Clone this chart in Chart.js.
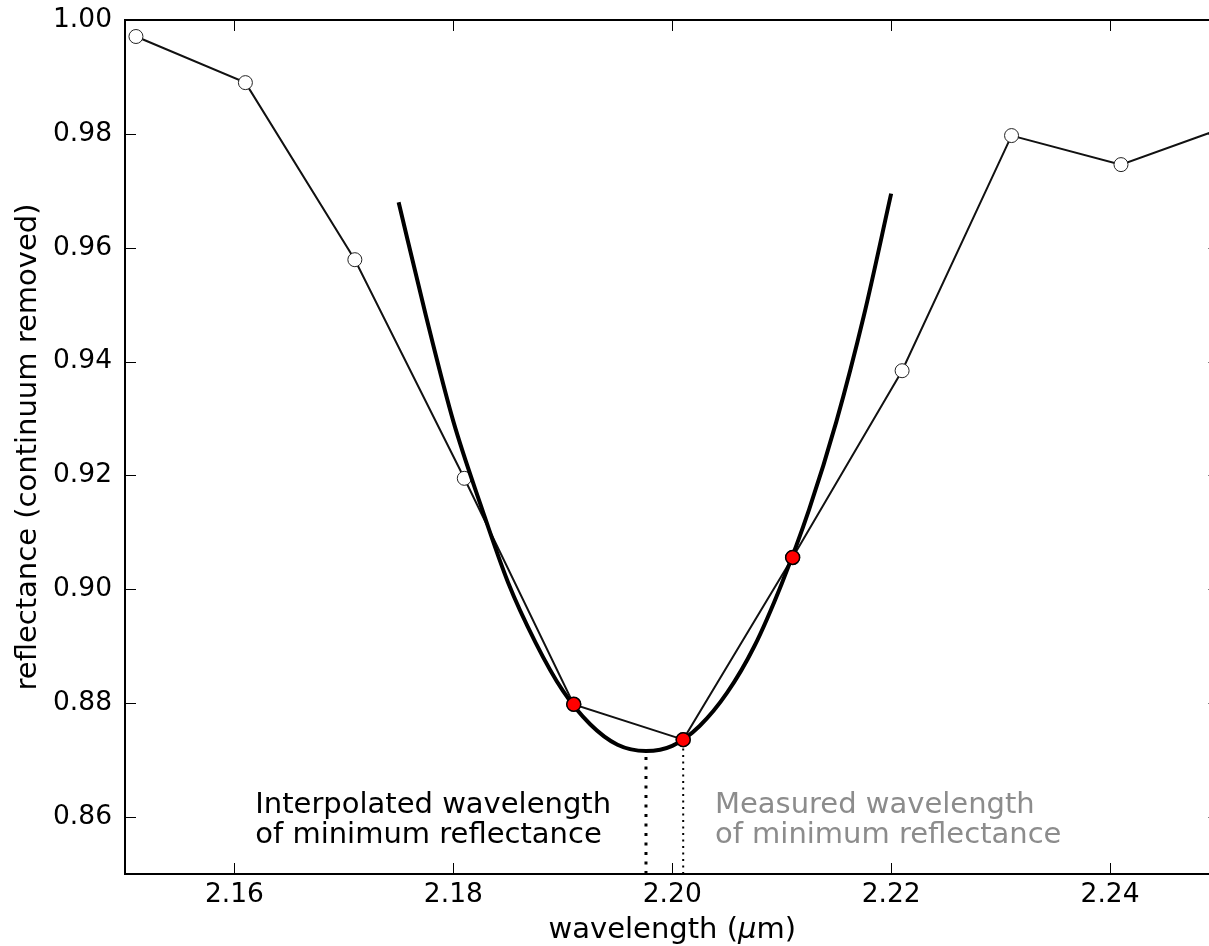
<!DOCTYPE html>
<html>
<head>
<meta charset="utf-8">
<script src="https://cdn.jsdelivr.net/npm/chart.js@4.4.1/dist/chart.umd.min.js"></script>
<style>
  html, body { margin: 0; padding: 0; overflow: hidden; background: #fff; }
  canvas { display: block; }
</style>
</head>
<body>
<canvas id="chartMinimum" width="1228" height="946"></canvas>
<script>
// measured spectrum (continuum removed)
const wavelength = [2.151, 2.161, 2.171, 2.181, 2.191, 2.201, 2.211, 2.221, 2.231, 2.241, 2.251]
const reflectance = [0.9971, 0.9890, 0.9579, 0.9195, 0.8798, 0.8736, 0.9056, 0.9384, 0.9797, 0.9746, 0.9815]

// the three points used for the fit
const fitPointWavelength = [2.191, 2.201, 2.211]
const fitPointReflectance = [0.8798, 0.8736, 0.9056]

// fitted curve
const curveWavelength = [2.175, 2.1775, 2.180, 2.1825, 2.185, 2.1875, 2.190, 2.1925, 2.195, 2.1976,
  2.200, 2.2025, 2.205, 2.2075, 2.210, 2.2125, 2.215, 2.2175, 2.220]
const curveReflectance = [0.9680, 0.9480, 0.9295, 0.9148, 0.9012, 0.8907, 0.8822, 0.8763, 0.8727, 0.8716,
  0.8725, 0.8760, 0.8818, 0.8900, 0.9010, 0.9140, 0.9295, 0.9480, 0.9695]

// minimum markers
const interpolatedMin = {wavelength: 2.1976, reflectance: 0.8716}
const measuredMin = {wavelength: 2.201, reflectance: 0.8736}

const xTicks = [2.16, 2.18, 2.20, 2.22, 2.24]
const yTicks = [0.86, 0.88, 0.90, 0.92, 0.94, 0.96, 0.98, 1.00]

const FONT = '"DejaVu Sans", sans-serif'
const LABEL = '29px ' + FONT

function pairs(xs, ys) {
  const out = []
  for (var i = 0; i < xs.length; i++) {
    out.push({x: xs[i], y: ys[i]})
  }
  return out
}

function noPadding(s) {
  s.paddingTop = 0
  s.paddingBottom = 0
  s.paddingLeft = 0
  s.paddingRight = 0
}

const framePlugin = {
  id: 'frame',
  afterDatasetsDraw(chart) {
    const {ctx, chartArea: a, scales: {x, y}} = chart
    ctx.save()
    ctx.strokeStyle = '#000'
    ctx.lineWidth = 1
    ctx.beginPath()
    xTicks.forEach(v => {
      const px = Math.round(x.getPixelForValue(v)) + 0.5
      ctx.moveTo(px, a.bottom); ctx.lineTo(px, a.bottom - 11)
      ctx.moveTo(px, a.top); ctx.lineTo(px, a.top + 11)
    })
    yTicks.forEach(v => {
      const py = Math.round(y.getPixelForValue(v)) + 0.5
      ctx.moveTo(a.left, py); ctx.lineTo(a.left + 11, py)
      ctx.moveTo(a.right, py); ctx.lineTo(a.right - 11, py)
    })
    ctx.stroke()
    ctx.lineWidth = 2
    ctx.strokeRect(a.left, a.top, a.right - a.left, a.bottom - a.top)

    // annotations
    ctx.font = LABEL
    ctx.textBaseline = 'alphabetic'
    ctx.textAlign = 'left'
    ctx.fillStyle = '#000'
    const lx = x.getPixelForValue(2.1619)
    const b1 = y.getPixelForValue(0.8607)
    const b2 = y.getPixelForValue(0.8555)
    ctx.fillText('Interpolated wavelength', lx, b1)
    ctx.fillText('of minimum reflectance', lx, b2)
    ctx.fillStyle = '#8c8c8c'
    const mx = x.getPixelForValue(2.2039)
    ctx.fillText('Measured wavelength', mx, b1)
    ctx.fillText('of minimum reflectance', mx, b2)

    // x axis title with italic mu
    ctx.fillStyle = '#000'
    const partA = 'wavelength (', partB = '\u03bc', partC = 'm)'
    ctx.font = LABEL
    const wA = ctx.measureText(partA).width
    const wC = ctx.measureText(partC).width
    ctx.font = 'italic ' + LABEL
    const wB = ctx.measureText(partB).width
    const tx = (a.left + a.right) / 2 - (wA + wB + wC) / 2
    const ty = 938
    ctx.font = LABEL
    ctx.fillText(partA, tx, ty)
    ctx.font = 'italic ' + LABEL
    ctx.fillText(partB, tx + wA, ty)
    ctx.font = LABEL
    ctx.fillText(partC, tx + wA + wB, ty)

    // y axis title
    ctx.translate(36, (a.top + a.bottom) / 2)
    ctx.rotate(-Math.PI / 2)
    ctx.textAlign = 'center'
    ctx.fillText('reflectance (continuum removed)', 0, 0)
    ctx.restore()
  }
}

new Chart(document.getElementById('chartMinimum'), {
  type: 'line',
  data: {
    datasets: [
      {
        data: pairs(fitPointWavelength, fitPointReflectance),
        showLine: false,
        pointRadius: 7,
        pointBackgroundColor: '#ff0000',
        pointBorderColor: '#000',
        pointBorderWidth: 1.5,
        order: 0
      },
      {
        data: pairs(curveWavelength, curveReflectance),
        borderColor: '#000',
        borderWidth: 4,
        pointRadius: 0,
        cubicInterpolationMode: 'monotone',
        order: 1
      },
      {
        data: pairs(wavelength, reflectance),
        borderColor: '#111',
        borderWidth: 2,
        pointRadius: 7,
        pointBackgroundColor: '#fff',
        pointBorderColor: '#222',
        pointBorderWidth: 1,
        order: 2
      },
      {
        data: [{x: interpolatedMin.wavelength, y: 0.85}, {x: interpolatedMin.wavelength, y: interpolatedMin.reflectance}],
        borderColor: '#000',
        borderWidth: 3,
        borderDash: [3, 6.5],
        pointRadius: 0,
        order: 3
      },
      {
        data: [{x: measuredMin.wavelength, y: 0.85}, {x: measuredMin.wavelength, y: measuredMin.reflectance}],
        borderColor: '#000',
        borderWidth: 2,
        borderDash: [2, 4.5],
        pointRadius: 0,
        order: 3
      }
    ]
  },
  options: {
    responsive: false,
    animation: false,
    layout: {padding: {top: 20, right: 3, left: 0, bottom: 0}},
    plugins: {
      legend: {display: false},
      tooltip: {enabled: false}
    },
    scales: {
      x: {
        type: 'linear',
        min: 2.15,
        max: 2.25,
        grid: {display: false, drawTicks: false},
        border: {display: false},
        ticks: {
          autoSkip: false,
          padding: 5,
          color: '#000',
          font: {family: FONT, size: 26.5},
          callback: v => v.toFixed(2)
        },
        afterBuildTicks: s => { s.ticks = xTicks.map(v => ({value: v})) },
        afterFit: s => { s.height = 72; noPadding(s) }
      },
      y: {
        type: 'linear',
        min: 0.85,
        max: 1.00,
        grid: {display: false, drawTicks: false},
        border: {display: false},
        ticks: {
          autoSkip: false,
          padding: 13,
          color: '#000',
          font: {family: FONT, size: 26.5},
          callback: v => v.toFixed(2)
        },
        afterBuildTicks: s => { s.ticks = yTicks.map(v => ({value: v})) },
        afterFit: s => { s.width = 125; noPadding(s) }
      }
    }
  },
  plugins: [framePlugin]
})
</script>
</body>
</html>
